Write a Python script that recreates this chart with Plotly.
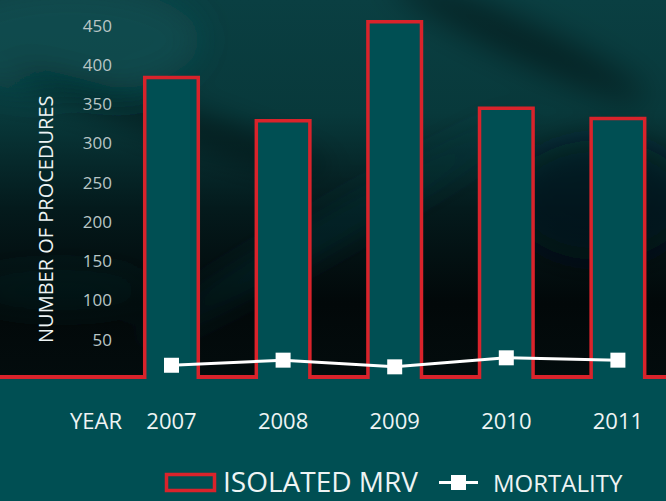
import base64
import plotly.graph_objects as go

# ---- data ----
years = ["2007", "2008", "2009", "2010", "2011"]
procedures = [384, 329, 455, 345, 332]
mortality = [17.5, 24, 15.5, 27, 24]
y_ticks = [50, 100, 150, 200, 250, 300, 350, 400, 450]

W, H = 666, 501
PLOT_H = 379  # plot area height in px (margin b = H - PLOT_H)

TEAL = "#004f53"
RED = "#d9232b"
FONT = "Open Sans"

def px(x):
    return x / W

def py(y):
    return (PLOT_H - y) / PLOT_H

# background texture approximation (svg gradient + blurred blobs)
svg = f"""<svg xmlns='http://www.w3.org/2000/svg' width='{W}' height='{PLOT_H}' viewBox='0 0 {W} {PLOT_H}'>
<defs>
<linearGradient id='g' x1='0' y1='0' x2='0' y2='1'>
<stop offset='0' stop-color='#0a3f42'/>
<stop offset='0.3' stop-color='#08393b'/>
<stop offset='0.55' stop-color='#041a1c'/>
<stop offset='0.8' stop-color='#020809'/>
<stop offset='1' stop-color='#030c0d'/>
</linearGradient>
<filter id='b' x='-50%' y='-50%' width='200%' height='200%'><feGaussianBlur stdDeviation='16'/></filter>
</defs>
<rect width='{W}' height='{PLOT_H}' fill='url(#g)'/>
<g filter='url(#b)'>
<ellipse cx='70' cy='40' rx='130' ry='55' fill='#0e5457' opacity='0.6'/>
<ellipse cx='170' cy='120' rx='170' ry='14' transform='rotate(18 170 120)' fill='#000' opacity='0.5'/>
<ellipse cx='520' cy='40' rx='140' ry='18' transform='rotate(25 520 40)' fill='#000' opacity='0.45'/>
<ellipse cx='330' cy='230' rx='220' ry='12' transform='rotate(-30 330 230)' fill='#0c3e40' opacity='0.5'/>
<ellipse cx='60' cy='290' rx='90' ry='20' fill='#0b3336' opacity='0.35'/>
<ellipse cx='600' cy='200' rx='90' ry='60' fill='#04191a' opacity='0.6'/>
</g>
</svg>"""
svg_uri = "data:image/svg+xml;base64," + base64.b64encode(svg.encode()).decode()

x_idx = list(range(len(years)))

fig = go.Figure()

fig.add_trace(go.Bar(
    x=x_idx, y=[v + 20 for v in procedures], base=-20,
    width=0.48,
    marker=dict(color=TEAL, line=dict(color=RED, width=3.5)),
    name="ISOLATED MRV", showlegend=False, hoverinfo="skip",
))

fig.add_trace(go.Scatter(
    x=x_idx, y=mortality, mode="lines+markers",
    line=dict(color="white", width=3),
    marker=dict(symbol="square", size=15, color="white"),
    name="MORTALITY", showlegend=False,
))

shapes = [
    # red baseline across the chart
    dict(type="rect", xref="paper", yref="y", x0=0, x1=1, y0=0, y1=5,
         fillcolor=RED, line=dict(width=0), layer="below"),
    # legend: bar symbol
    dict(type="rect", xref="paper", yref="paper",
         x0=px(166.5), x1=px(214.5), y0=py(474.5), y1=py(490.5),
         fillcolor=TEAL, line=dict(color=RED, width=3.5)),
    # legend: mortality symbol
    dict(type="line", xref="paper", yref="paper",
         x0=px(439), x1=px(478), y0=py(482.5), y1=py(482.5),
         line=dict(color="white", width=3)),
    dict(type="rect", xref="paper", yref="paper",
         x0=px(451), x1=px(466), y0=py(475), y1=py(490),
         fillcolor="white", line=dict(width=0)),
]

annotations = [
    dict(text="NUMBER OF PROCEDURES", xref="paper", yref="paper",
         x=px(45), y=py(220), textangle=-90, showarrow=False,
         font=dict(family=FONT, size=20, color="#eef4f4"),
         xanchor="center", yanchor="middle"),
    dict(text="YEAR", xref="paper", yref="paper",
         x=px(96), y=py(420), showarrow=False,
         font=dict(family=FONT, size=22, color="#eef4f4"),
         xanchor="center", yanchor="middle"),
    dict(text="ISOLATED MRV", xref="paper", yref="paper",
         x=px(221), y=py(481), showarrow=False,
         font=dict(family=FONT, size=28, color="#eef4f4"),
         xanchor="left", yanchor="middle"),
    dict(text="MORTALITY", xref="paper", yref="paper",
         x=px(491), y=py(482), showarrow=False,
         font=dict(family=FONT, size=24, color="#eef4f4"),
         xanchor="left", yanchor="middle"),
]

x0_px, step_px = 171.5, 111.6
fig.update_layout(
    width=W, height=H,
    margin=dict(l=0, r=0, t=0, b=H - PLOT_H, pad=0),
    paper_bgcolor=TEAL,
    plot_bgcolor="rgba(0,0,0,0)",
    showlegend=False,
    shapes=shapes,
    annotations=annotations,
    images=[dict(source=svg_uri, xref="paper", yref="paper", x=0, y=1,
                 sizex=1, sizey=1, sizing="stretch", layer="below",
                 xanchor="left", yanchor="top")],
    xaxis=dict(
        range=[-x0_px / step_px, (W - x0_px) / step_px],
        tickmode="array", tickvals=x_idx, ticktext=years,
        showgrid=False, zeroline=False, showline=False, ticks="",
        tickfont=dict(family=FONT, size=22, color="#eef4f4"),
        ticklabelstandoff=27,
        fixedrange=True,
    ),
    yaxis=dict(
        range=[0, PLOT_H / 0.785],
        tickmode="array", tickvals=y_ticks,
        showgrid=False, zeroline=False, showline=False, ticks="",
        tickfont=dict(family=FONT, size=17, color="#b9c6c6"),
        anchor="free", position=px(112),
        fixedrange=True,
    ),
)

fig.write_html(
    "out.html",
    config={"displayModeBar": False},
    post_script="document.body.style.margin='0';document.body.style.overflow='hidden';",
)
